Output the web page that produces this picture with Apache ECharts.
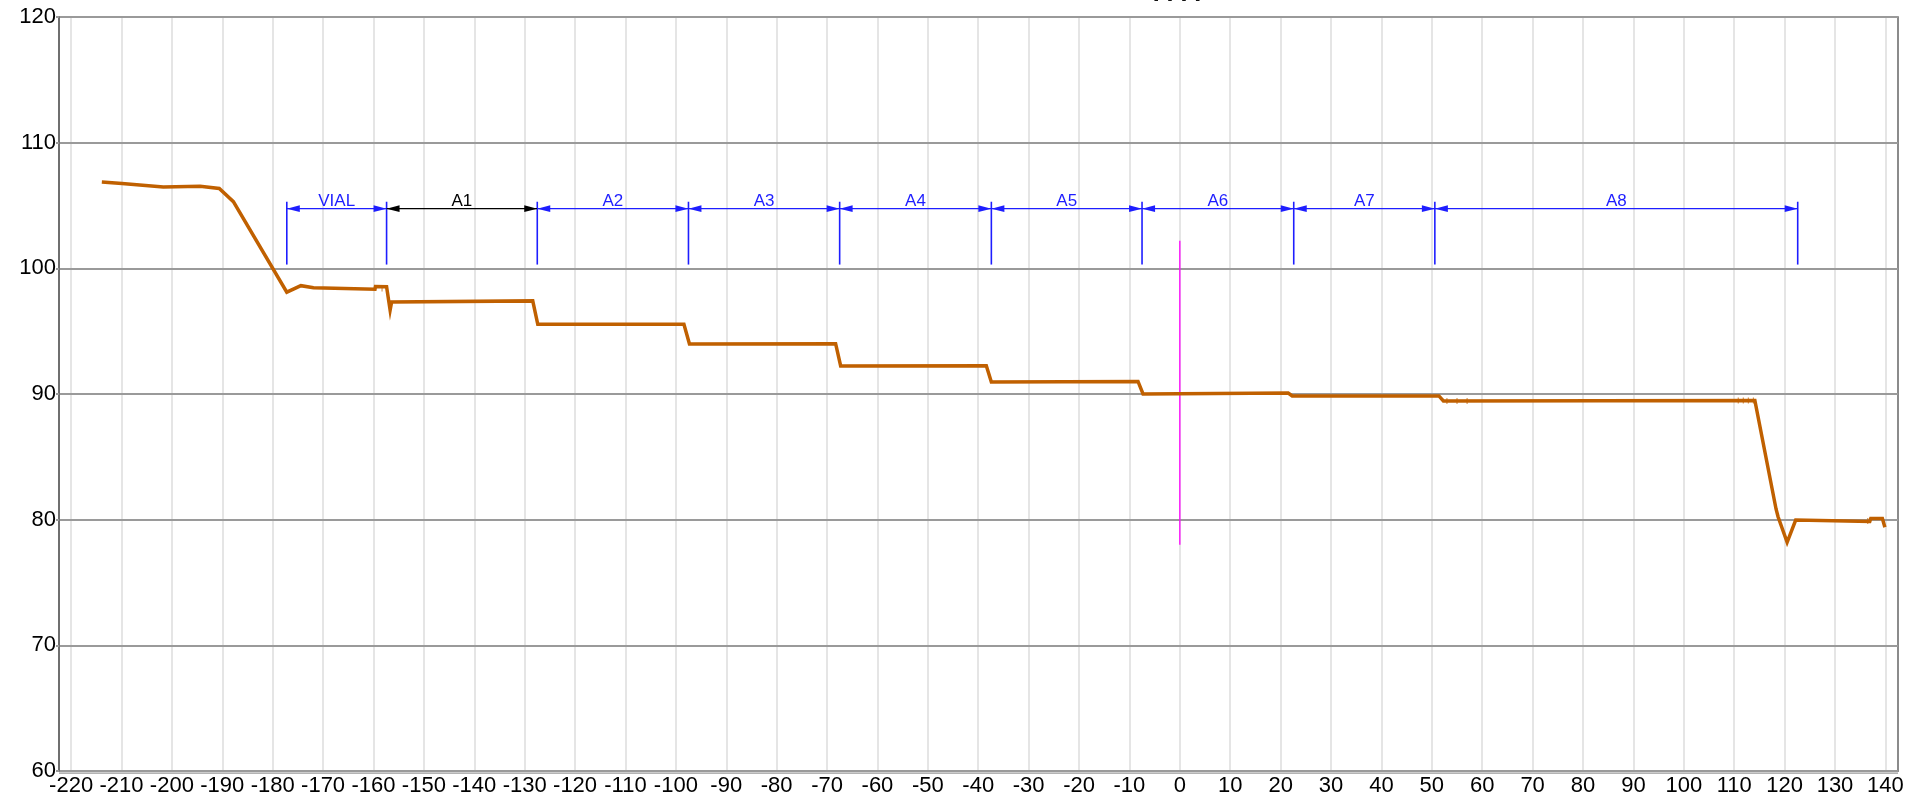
<!DOCTYPE html>
<html>
<head>
<meta charset="utf-8">
<title>Profile</title>
<script src="https://cdn.jsdelivr.net/npm/echarts@6/dist/echarts.min.js"></script>
<style>
  html, body { margin: 0; padding: 0; background: #ffffff; }
  #chart { width: 1907px; height: 798px; }
</style>
</head>
<body>
<div id="chart"></div>
<script>
// Measured profile (position, level)
const profileX = [-213.9, -209.9, -201.7, -194.4, -190.6, -187.8, -177.2, -174.4, -171.9, -159.7,
                  -159.6, -157.4, -156.7, -156.4, -128.4, -127.4, -98.4, -97.3, -68.3, -67.3,
                  -38.4, -37.4, -8.3, -7.3, 21.5, 22.3, 51.4, 52.3, 114.1, 118.3,
                  118.7, 120.5, 122.2, 136.9, 137.1, 139.4, 139.9];
const profileY = [106.87, 106.75, 106.48, 106.53, 106.35, 105.3, 98.1, 98.62, 98.46, 98.33,
                  98.55, 98.53, 96.67, 97.33, 97.41, 95.55, 95.55, 93.98, 94.0, 92.23,
                  92.25, 90.96, 91.0, 90.0, 90.08, 89.85, 89.85, 89.45, 89.48, 80.85,
                  80.23, 78.2, 79.97, 79.86, 80.1, 80.1, 79.4];

// Small sample ticks along the profile
const tickMarkX = [53.0, 55.0, 57.0, 110.8, 111.8, 112.8, 113.8, 136.5, -158.3];
const tickMarkY = [89.45, 89.45, 89.45, 89.48, 89.48, 89.48, 89.48, 79.9, 98.4];

// Zone boundaries and names for the dimension annotations
const zoneEdges = [-177.2, -157.4, -127.5, -97.5, -67.5, -37.4, -7.5, 22.6, 50.6, 122.6];
const zoneNames = ['VIAL', 'A1', 'A2', 'A3', 'A4', 'A5', 'A6', 'A7', 'A8'];
const zoneLevel = 104.75;          // dimension line level
const zoneExtent = [100.3, 105.3]; // extension line span

// Reference marker at position 0
const refX = 0;
const refSpan = [78.0, 102.2];

// Axis ranges and tick labels
const xRange = [-222.4, 142.5];
const xTickRange = [-220, 140];
const yRange = [60, 120];
const tickStep = 10;

const BLUE = '#1e1eff';
const zoneColors = zoneNames.map(n => (n === 'A1' ? '#000000' : BLUE));

const W = 1907, H = 798;
const gridLeft = 59, gridRight = 9, gridTop = 17, gridBottom = 27;
const plotW = W - gridLeft - gridRight;
const pxPerUnit = plotW / (xRange[1] - xRange[0]);
const innerLeft = gridLeft + (xTickRange[0] - xRange[0]) * pxPerUnit;
const innerRight = W - (gridLeft + (xTickRange[1] - xRange[0]) * pxPerUnit);

const FONT = '"Liberation Sans", Arial, sans-serif';

const chart = echarts.init(document.getElementById('chart'), null, { renderer: 'canvas' });

// Dimension line with an arrowhead at each end and the zone name above it
function renderZone(params, api) {
  const x0 = api.value(0), x1 = api.value(1), idx = api.value(2);
  const p0 = api.coord([x0, zoneLevel]);
  const p1 = api.coord([x1, zoneLevel]);
  const color = zoneColors[idx];
  const ah = 13, aw = 3.3;
  return {
    type: 'group',
    children: [
      { type: 'line', shape: { x1: p0[0], y1: p0[1], x2: p1[0], y2: p1[1] },
        style: { stroke: color, lineWidth: 1.2 } },
      { type: 'polygon', shape: { points: [[p0[0], p0[1]], [p0[0] + ah, p0[1] - aw], [p0[0] + ah, p0[1] + aw]] },
        style: { fill: color } },
      { type: 'polygon', shape: { points: [[p1[0], p1[1]], [p1[0] - ah, p1[1] - aw], [p1[0] - ah, p1[1] + aw]] },
        style: { fill: color } },
      { type: 'text', x: (p0[0] + p1[0]) / 2, y: p0[1] + 1,
        style: { text: zoneNames[idx], fill: color, font: '17px ' + FONT, align: 'center', verticalAlign: 'bottom' } }
    ]
  };
}

// Extension line at a zone boundary
function renderEdge(params, api) {
  const x = api.value(0);
  const a = api.coord([x, zoneExtent[0]]);
  const b = api.coord([x, zoneExtent[1]]);
  return { type: 'line', shape: { x1: a[0], y1: a[1], x2: b[0], y2: b[1] },
           style: { stroke: BLUE, lineWidth: 1.6 } };
}

const option = {
  animation: false,
  backgroundColor: '#ffffff',
  graphic: [
    { type: 'text', x: 1177, y: -6, z: 10,
      style: { text: 'I I I I', font: 'bold 25px ' + FONT, fill: '#111', align: 'center', verticalAlign: 'middle' } },
    // second rule just below the bottom axis
    { type: 'rect', z: 10, shape: { x: gridLeft, y: H - gridBottom + 1.5, width: plotW, height: 1.2 },
      style: { fill: '#9a9a9a' } }
  ],
  grid: [
    { left: gridLeft, right: gridRight, top: gridTop, bottom: gridBottom,
      show: true, borderColor: '#666', borderWidth: 1.5, backgroundColor: 'transparent' },
    { left: innerLeft, right: innerRight, top: gridTop, bottom: gridBottom, show: false }
  ],
  xAxis: [
    { type: 'value', gridIndex: 0, min: xRange[0], max: xRange[1],
      axisLine: { show: true, onZero: false, lineStyle: { color: '#8a8a8a', width: 2 } },
      axisTick: { show: false }, axisLabel: { show: false }, splitLine: { show: false } },
    { type: 'value', gridIndex: 1, min: xTickRange[0], max: xTickRange[1], interval: tickStep,
      axisLine: { show: false, onZero: false }, axisTick: { show: false },
      axisLabel: { show: true, color: '#000', fontSize: 22, fontFamily: FONT, margin: 4,
                   showMinLabel: true, showMaxLabel: true },
      splitLine: { show: true, lineStyle: { color: '#dcdcdc', width: 1.5 } } }
  ],
  yAxis: [
    { type: 'value', gridIndex: 0, min: yRange[0], max: yRange[1], interval: tickStep, z: 1,
      axisLine: { show: true, onZero: false, lineStyle: { color: '#666', width: 1.5 } },
      axisTick: { show: true, length: 3, lineStyle: { color: '#999', width: 2 } },
      axisLabel: { color: '#000', fontSize: 22, fontFamily: FONT, margin: 3 },
      splitLine: { show: true, lineStyle: { color: '#9a9a9a', width: 2 } } },
    { type: 'value', gridIndex: 1, min: yRange[0], max: yRange[1], show: false,
      axisLine: { onZero: false } }
  ],
  series: [
    { type: 'line', name: 'profile', xAxisIndex: 0, yAxisIndex: 0, z: 4,
      data: profileX.map((x, i) => [x, profileY[i]]),
      showSymbol: false, symbol: 'none',
      lineStyle: { color: '#c06000', width: 3.5, join: 'miter' } },
    { type: 'scatter', xAxisIndex: 0, yAxisIndex: 0, z: 5,
      data: tickMarkX.map((x, i) => [x, tickMarkY[i]]),
      symbol: 'rect', symbolSize: [1, 6], itemStyle: { color: '#c06000' } },
    { type: 'line', name: 'ref', xAxisIndex: 0, yAxisIndex: 0, z: 3,
      data: [[refX, refSpan[0]], [refX, refSpan[1]]],
      showSymbol: false, symbol: 'none',
      lineStyle: { color: '#ff00ff', width: 1.3 } },
    { type: 'custom', xAxisIndex: 0, yAxisIndex: 0, z: 6, clip: false,
      data: zoneEdges.map(e => [e]),
      encode: { x: 0 },
      renderItem: renderEdge },
    { type: 'custom', xAxisIndex: 0, yAxisIndex: 0, z: 6, clip: false,
      data: zoneNames.map((n, i) => [zoneEdges[i], zoneEdges[i + 1], i]),
      encode: { x: [0, 1] },
      renderItem: renderZone }
  ]
};

chart.setOption(option);
</script>
</body>
</html>
